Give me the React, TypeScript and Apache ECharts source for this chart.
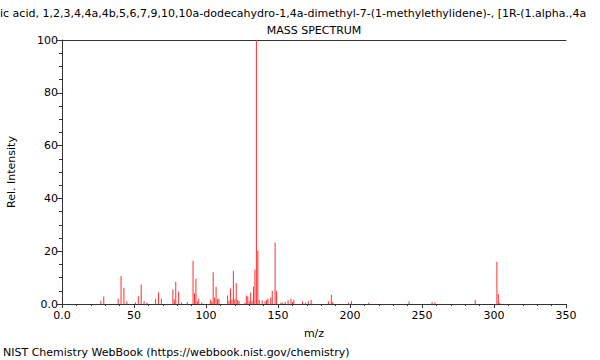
import React, { useEffect, useRef } from "react";
import * as echarts from "echarts";

const mzValues: number[] = [
  27, 29, 39, 41, 43, 45, 51, 53, 55, 57, 59, 65, 67, 69, 77, 78, 79, 81, 83, 87,
  91, 92, 93, 94, 95, 97, 103, 104, 105, 106, 107, 108, 109, 115, 116, 117, 118,
  119, 120, 121, 122, 123, 127, 128, 129, 130, 131, 132, 133, 134, 135, 136, 137,
  139, 141, 142, 143, 145, 146, 148, 149, 152, 153, 155, 157, 159, 160, 161, 167,
  169, 171, 173, 185, 187, 188, 199, 201, 213, 241, 257, 259, 287, 302, 303, 304,
];
const intensities: number[] = [
  1.2, 2.8, 2.0, 10.6, 6.2, 1.0, 0.6, 2.9, 7.4, 1.0, 0.6, 2.0, 4.4, 2.0, 5.5, 1.7, 8.4, 4.7, 0.5, 0.8,
  16.4, 4.1, 9.7, 1.0, 2.0, 0.6, 1.6, 1.0, 12.0, 2.5, 6.5, 1.8, 2.0, 3.2, 1.2, 5.9, 1.6,
  12.5, 1.8, 7.9, 1.5, 1.1, 0.5, 3.2, 2.8, 0.9, 4.4, 1.2, 6.5, 13.1, 100, 20.3, 1.5,
  1.4, 1.0, 1.5, 2.0, 2.5, 5.0, 23.3, 4.8, 0.5, 0.5, 0.8, 1.4, 2.0, 0.8, 1.6, 1.0,
  0.5, 1.0, 1.6, 1.0, 3.5, 0.8, 0.5, 1.0, 0.5, 1.0, 0.8, 0.6, 1.5, 16.0, 3.8, 0.5,
];

const compoundText =
  "ic acid, 1,2,3,4,4a,4b,5,6,7,9,10,10a-dodecahydro-1,4a-dimethyl-7-(1-methylethylidene)-, [1R-(1.alpha.,4a";
const chartTitle = "MASS SPECTRUM";
const footerText = "NIST Chemistry WebBook (https://webbook.nist.gov/chemistry)";
const xAxisName = "m/z";
const yAxisName = "Rel. Intensity";

const FONT = "DejaVu Sans";
const FS = 11;

export default function App() {
  const ref = useRef<HTMLDivElement>(null);
  useEffect(() => {
    if (!ref.current) return;
    const chart = echarts.init(ref.current, undefined, { renderer: "svg" });
    const axisColor = "#333";
    const textStyle = (text: string, align: string) => ({
      text,
      fill: "#000",
      font: `${FS}px "${FONT}"`,
      textAlign: align,
      textVerticalAlign: "middle",
    });
    chart.setOption({
      animation: false,
      backgroundColor: "#fff",
      textStyle: { fontFamily: FONT },
      graphic: [
        { type: "text", x: 0, y: 13, style: textStyle(compoundText, "left") },
        { type: "text", x: 314, y: 30, style: textStyle(chartTitle, "center") },
        { type: "text", x: 3, y: 352, style: textStyle(footerText, "left") },
      ],
      grid: { left: 62, right: 34, top: 40, bottom: 56, containLabel: false, outerBoundsMode: "none" },
      xAxis: [
        {
          type: "value",
          min: 0,
          max: 350,
          interval: 50,
          name: xAxisName,
          nameLocation: "middle",
          nameGap: 24,
          nameTextStyle: { fontSize: FS, color: "#000", fontFamily: FONT },
          axisLine: { show: true, onZero: false, lineStyle: { color: axisColor, width: 1 } },
          axisTick: { show: true, length: 4, lineStyle: { color: axisColor } },
          minorTick: { show: true, splitNumber: 5, length: 2, lineStyle: { color: axisColor } },
          axisLabel: {
            fontSize: FS,
            color: "#000",
            fontFamily: FONT,
            margin: 6,
            formatter: (v: number) => (v === 0 ? "0.0" : String(v)),
          },
          splitLine: { show: false },
        },
        {
          type: "value",
          position: "top",
          min: 0,
          max: 350,
          axisLine: { show: true, onZero: false, lineStyle: { color: axisColor, width: 1 } },
          axisTick: { show: false },
          axisLabel: { show: false },
          splitLine: { show: false },
        },
      ],
      yAxis: {
        type: "value",
        min: 0,
        max: 100,
        interval: 20,
        name: yAxisName,
        nameLocation: "middle",
        nameGap: 45,
        nameRotate: 90,
        nameTextStyle: { fontSize: FS, color: "#000", fontFamily: FONT },
        axisLine: { show: true, onZero: false, lineStyle: { color: axisColor, width: 1 } },
        axisTick: { show: true, length: 5, lineStyle: { color: axisColor } },
        minorTick: { show: true, splitNumber: 4, length: 3, lineStyle: { color: axisColor } },
        axisLabel: {
          fontSize: FS,
          color: "#000",
          fontFamily: FONT,
          margin: 4,
          formatter: (v: number) => (v === 0 ? "0.0" : String(v)),
        },
        splitLine: { show: false },
      },
      series: [
        {
          type: "bar",
          xAxisIndex: 0,
          barWidth: 1,
          itemStyle: { color: "#ff3030" },
          data: mzValues.map((m, i) => [m, intensities[i]]),
        },
      ],
    });
    return () => chart.dispose();
  }, []);
  return (
    <div
      ref={ref}
      style={{ position: "fixed", left: 0, top: 0, width: 600, height: 360 }}
    />
  );
}
